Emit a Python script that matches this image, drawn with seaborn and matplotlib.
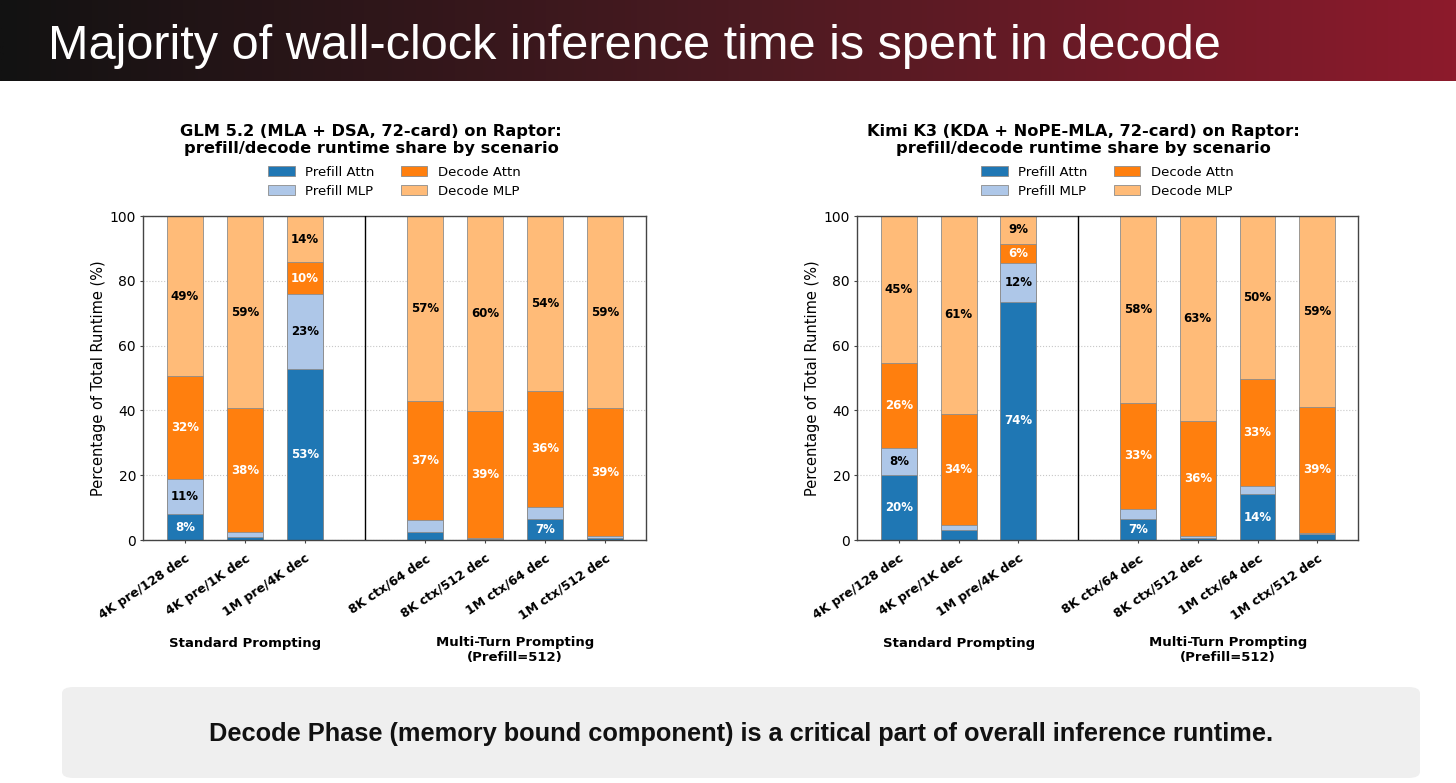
import numpy as np
import pandas as pd
import matplotlib
matplotlib.use("Agg")
import matplotlib.pyplot as plt
import seaborn as sns
from matplotlib.patches import Patch, FancyBboxPatch
from matplotlib.colors import LinearSegmentedColormap
from matplotlib import transforms

# ---------------- data ----------------
scenarios_std = ["4K pre/128 dec", "4K pre/1K dec", "1M pre/4K dec"]
scenarios_mt = ["8K ctx/64 dec", "8K ctx/512 dec", "1M ctx/64 dec", "1M ctx/512 dec"]
components = ["Prefill Attn", "Prefill MLP", "Decode Attn", "Decode MLP"]

glm_prefill_attn = [8.0, 1.0, 52.7, 2.4, 0.3, 6.6, 0.7]
glm_prefill_mlp = [10.9, 1.5, 23.1, 3.8, 0.4, 3.7, 0.5]
glm_decode_attn = [31.7, 38.2, 10.0, 36.8, 39.0, 35.7, 39.4]
glm_decode_mlp = [49.4, 59.3, 14.2, 57.0, 60.3, 54.0, 59.4]

kimi_prefill_attn = [20.2, 3.1, 73.6, 6.6, 0.7, 14.1, 2.0]
kimi_prefill_mlp = [8.3, 1.4, 12.0, 2.9, 0.4, 2.6, 0.3]
kimi_decode_attn = [26.1, 34.4, 5.8, 32.9, 35.7, 33.0, 38.7]
kimi_decode_mlp = [45.4, 61.1, 8.6, 57.6, 63.2, 50.3, 59.0]

glm_title = "GLM 5.2 (MLA + DSA, 72-card) on Raptor:\nprefill/decode runtime share by scenario"
kimi_title = "Kimi K3 (KDA + NoPE-MLA, 72-card) on Raptor:\nprefill/decode runtime share by scenario"
group_std = "Standard Prompting"
group_mt = "Multi-Turn Prompting\n(Prefill=512)"
header = "Majority of wall-clock inference time is spent in decode"
footer = "Decode Phase (memory bound component) is a critical part of overall inference runtime."

# ---------------- style ----------------
colors = ["#1f77b4", "#aec7e8", "#ff7f0e", "#ffbb78"]
label_colors = ["white", "black", "white", "black"]
W, H = 1456, 783
fig = plt.figure(figsize=(W / 100, H / 100), dpi=100)
fig.patch.set_facecolor("white")

scenarios = scenarios_std + scenarios_mt
positions = list(range(len(scenarios_std))) + [len(scenarios_std) + 1 + i for i in range(len(scenarios_mt))]


def fx(px):
    return px / W


def fy(py):
    return 1 - py / H


# header banner
bax = fig.add_axes([0, fy(81), 1, 81 / H])
cmap = LinearSegmentedColormap.from_list("hdr", ["#121212", "#4a1a21", "#8d1b2c"])
bax.imshow(np.linspace(0, 1, 512)[None, :], aspect="auto", cmap=cmap, extent=[0, 1, 0, 1])
bax.axis("off")
fig.text(fx(48), fy(59), header, color="white", fontsize=35,
         family="Liberation Sans", ha="left", va="baseline")


def draw(ax, layers, title, title_cx):
    df = pd.DataFrame({"scenario": scenarios, "pos": positions})
    for name, vals in zip(components, layers):
        df[name] = vals
    cum = df[components].cumsum(axis=1)
    for name, color in reversed(list(zip(components, colors))):
        sns.barplot(x=df["pos"], y=cum[name], orient="x", native_scale=True, width=0.6,
                    color=color, saturation=1, edgecolor="#8c8c8c", linewidth=0.6,
                    errorbar=None, ax=ax, zorder=2)
    for j, name in enumerate(components):
        for i in range(len(df)):
            v = df[name].iloc[i]
            if v >= 5:
                ax.text(df["pos"].iloc[i], cum[name].iloc[i] - v / 2, f"{v:.0f}%",
                        ha="center", va="center", fontsize=8.5, fontweight="bold",
                        color=label_colors[j], zorder=5)
    ax.axvline(len(scenarios_std), color="black", linewidth=1, zorder=3)
    ax.set_xlim(-0.7, 7.68)
    ax.set_ylim(0, 100)
    ax.set_yticks(range(0, 101, 20))
    ax.tick_params(axis="y", labelsize=10, length=2.5, pad=2.5, color="#444444")
    ax.set_xticks(positions)
    ax.set_xticklabels(scenarios, rotation=34, ha="right", rotation_mode="anchor",
                       fontweight="bold", fontsize=9)
    ax.tick_params(axis="x", length=2.5, pad=6, color="#444444")
    ax.set_xlabel("")
    ax.set_ylabel("Percentage of Total Runtime (%)", fontsize=10.5, labelpad=3)
    ax.yaxis.grid(True, linestyle=":", color="#c8c8c8", linewidth=0.8)
    ax.set_axisbelow(True)
    for s in ax.spines.values():
        s.set_color("#444444")
        s.set_linewidth(1)
    handles = [Patch(facecolor=c, edgecolor="#8c8c8c", linewidth=0.6, label=n)
               for n, c in zip(components, colors)]
    ax.legend(handles=handles, loc="center", bbox_to_anchor=(0.5, 1.106), ncol=2,
              frameon=False, fontsize=9.5, handlelength=2.0, columnspacing=2.0,
              handletextpad=0.8, labelspacing=0.45, borderpad=0)
    fig.text(fx(title_cx), fy(140), title, ha="center", va="center", fontsize=11.7,
             fontweight="bold", linespacing=1.2)
    trans = transforms.blended_transform_factory(ax.transData, fig.transFigure)
    ax.text(1, fy(643), group_std, transform=trans, ha="center", va="center",
            fontsize=9.5, fontweight="bold")
    ax.text(5.5, fy(650), group_mt, transform=trans, ha="center", va="center",
            fontsize=9.5, fontweight="bold", multialignment="center", linespacing=1.15)


ax1 = fig.add_axes([fx(143), fy(540), fx(646 - 143), 324 / H])
draw(ax1, [glm_prefill_attn, glm_prefill_mlp, glm_decode_attn, glm_decode_mlp], glm_title, 371)
ax2 = fig.add_axes([fx(857), fy(540), fx(1358 - 857), 324 / H])
draw(ax2, [kimi_prefill_attn, kimi_prefill_mlp, kimi_decode_attn, kimi_decode_mlp], kimi_title, 1083)

# footer box
box = FancyBboxPatch((fx(62), fy(778)), fx(1420 - 62), 91 / H,
                     boxstyle="round,pad=0,rounding_size=0.008", transform=fig.transFigure,
                     facecolor="#efefef", edgecolor="none", zorder=0)
fig.patches.append(box)
fig.text(fx(741), fy(734), footer, ha="center", va="center", fontsize=18.3,
         fontweight="bold", family="Liberation Sans", color="#111111")

fig.savefig("out.png", dpi=100)
